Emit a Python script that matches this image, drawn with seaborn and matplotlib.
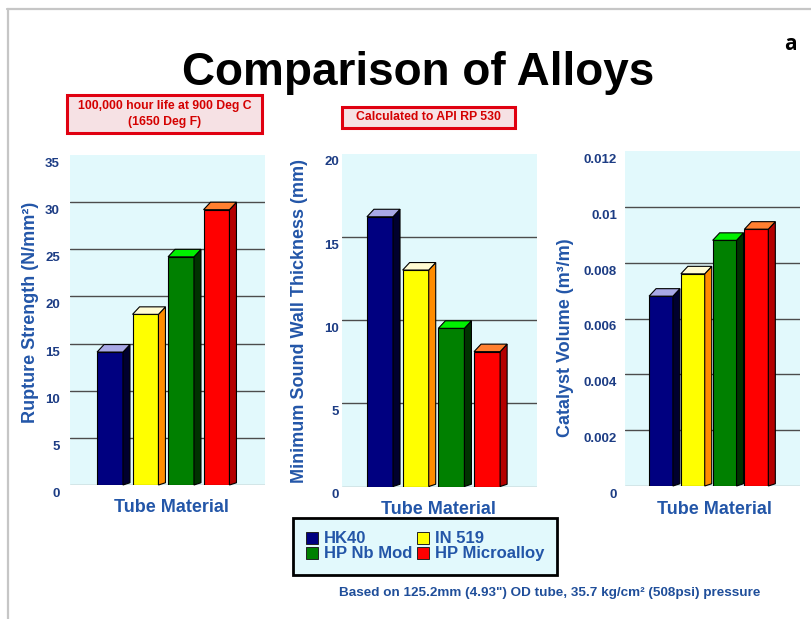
import matplotlib
matplotlib.use("Agg")
import matplotlib.pyplot as plt
import pandas as pd
import seaborn as sns
from matplotlib.patches import Polygon, Rectangle
from matplotlib.lines import Line2D
from matplotlib.transforms import blended_transform_factory, ScaledTranslation

# ---------------------------------------------------------------- data
materials = ["HK40", "IN 519", "HP Nb Mod", "HP Microalloy"]
rupture_strength = [14.1, 18.1, 24.2, 29.2]            # N/mm2
wall_thickness = [16.2, 13.0, 9.5, 8.1]                # mm
catalyst_volume = [0.0068, 0.0076, 0.0088, 0.0092]    # m3/m

rupture_ticks = [0, 5, 10, 15, 20, 25, 30, 35]
thickness_ticks = [0, 5, 10, 15, 20]
volume_ticks = [0, 0.002, 0.004, 0.006, 0.008, 0.010, 0.012]
volume_tick_labels = ["0", "0.002", "0.004", "0.006", "0.008", "0.01", "0.012"]

# ---------------------------------------------------------------- style
front_colors = ["#000080", "#ffff00", "#008000", "#ff0000"]
side_colors = ["#00002e", "#ff8c00", "#003200", "#b40000"]
top_colors = ["#a9a9e6", "#fffbd2", "#00f000", "#ff8030"]
WALL = "#e2f9fc"
BLUE = "#2356a8"
NAVY = "#1c3c84"
RED = "#d40000"
FONT = "Liberation Sans"

W, H, DPI = 811, 619, 100
sns.set_theme(style="white")
plt.rcParams["font.family"] = [FONT, "DejaVu Sans"]

fig = plt.figure(figsize=(W / DPI, H / DPI), dpi=DPI)
fig.patch.set_facecolor("white")


def fx(px):
    return px / W


def fy(py):
    return 1 - py / H


# thin grey frame around the slide
fig.add_artist(Line2D([fx(7), fx(811)], [fy(9), fy(9)], color="#c6c6c6", lw=1.6))
fig.add_artist(Line2D([fx(8), fx(8)], [fy(9), fy(619)], color="#c6c6c6", lw=1.6))

# title and panel letter
fig.text(fx(418), fy(85), "Comparison of Alloys", ha="center", va="baseline",
         fontsize=33, fontweight="bold", color="black")
fig.text(fx(790), fy(45), "a", ha="center", va="center", fontsize=15,
         fontweight="bold", color="black", family=["Open Sans", "DejaVu Sans"])


def note_box(l, t, r, b, lines):
    fig.add_artist(Rectangle((fx(l), fy(b)), fx(r - l), (b - t) / H,
                             transform=fig.transFigure, facecolor="#f6e1e4",
                             edgecolor="#e00010", lw=2.2))
    cy = (t + b) / 2
    n = len(lines)
    for k, txt in enumerate(lines):
        yy = cy + (k - (n - 1) / 2) * 15
        fig.text(fx((l + r) / 2), fy(yy), txt, ha="center", va="center",
                 fontsize=8.8, fontweight="bold", color=RED)


note_box(67, 95, 262, 133, ["100,000 hour life at 900 Deg C", "(1650 Deg F)"])
note_box(342, 107, 515, 128, ["Calculated to API RP 530"])


def panel(box, values, ticks, tick_labels, xlim, bar_width, ylabel,
          ylabel_xy, xlabel_xy, tick_right):
    l, t, r, b = box
    ax = fig.add_axes([fx(l), fy(b), fx(r - l), (b - t) / H])
    df = pd.DataFrame({"material": materials, "value": values})
    sns.barplot(data=df, x="material", y="value", hue="material",
                palette=front_colors, saturation=1, dodge=False,
                width=bar_width, legend=False, edgecolor="black",
                linewidth=0.8, ax=ax, zorder=3)
    ax.set_facecolor(WALL)
    ax.set_xlim(*xlim)
    ax.set_ylim(ticks[0], ticks[-1])
    ax.set_yticks(ticks)
    ax.set_axisbelow(True)
    ax.yaxis.grid(True, color="#4c4c4c", lw=1.0)
    grid = ax.get_ygridlines()
    grid[0].set_color("#9a9a9a")
    grid[-1].set_visible(False)
    for s in ax.spines.values():
        s.set_visible(False)
    ax.tick_params(left=False, bottom=False, labelleft=False, labelbottom=False)
    ax.set_xlabel("")
    ax.set_ylabel("")

    # depth of the pseudo-3D columns, in data units
    sx = (r - l) / (xlim[1] - xlim[0])
    sy = (b - t) / (ticks[-1] - ticks[0])
    ddx, ddy = 7 / sx, 7.5 / sy
    for i, p in enumerate(list(ax.patches)[:len(values)]):
        x0, w, h = p.get_x(), p.get_width(), p.get_height()
        top = Polygon([(x0, h), (x0 + w, h), (x0 + w + ddx, h + ddy),
                       (x0 + ddx, h + ddy)], closed=True,
                      facecolor=top_colors[i], edgecolor="black", lw=0.8,
                      zorder=3, clip_on=False)
        side = Polygon([(x0 + w, 0), (x0 + w + ddx, ddy * 0.3),
                        (x0 + w + ddx, h + ddy), (x0 + w, h)], closed=True,
                       facecolor=side_colors[i], edgecolor="black", lw=0.8,
                       zorder=3, clip_on=False)
        ax.add_patch(side)
        ax.add_patch(top)

    # value labels of the y axis sit on the front plane, a little lower
    trans = blended_transform_factory(ax.transAxes, ax.transData) + \
        ScaledTranslation(0, -9 / DPI, fig.dpi_scale_trans)
    xa = (tick_right - l) / (r - l)
    for v, lab in zip(ticks, tick_labels):
        ax.text(xa, v, lab, transform=trans, ha="right", va="center",
                fontsize=9.5, fontweight="bold", color=NAVY, clip_on=False)

    fig.text(fx(ylabel_xy[0]), fy(ylabel_xy[1]), ylabel, rotation=90,
             ha="center", va="center", fontsize=13, fontweight="bold",
             color=BLUE)
    fig.text(fx(xlabel_xy[0]), fy(xlabel_xy[1]), "Tube Material",
             ha="center", va="center", fontsize=13, fontweight="bold",
             color=BLUE)
    return ax


panel((70, 155, 265, 485), rupture_strength, rupture_ticks,
      [str(v) for v in rupture_ticks], (-1.127, 4.366), 0.73,
      "Rupture Strength (N/mm\u00b2)", (31, 312), (171, 508), 60)
panel((342, 153.5, 537, 486.5), wall_thickness, thickness_ticks,
      [str(v) for v in thickness_ticks], (-1.064, 4.398), 0.73,
      "Minimum Sound Wall Thickness (mm)", (299, 321), (438, 510), 339)
panel((625, 151, 800, 486), catalyst_volume, volume_ticks,
      volume_tick_labels, (-1.132, 4.371), 0.75,
      "Catalyst Volume (m\u00b3/m)", (565, 338), (714, 510), 617)

# legend for the four alloys
handles = [Line2D([], [], ls="", marker="s", markersize=8,
                  markerfacecolor=c, markeredgecolor="#222222",
                  markeredgewidth=0.7) for c in front_colors]
order = [0, 2, 1, 3]
leg = fig.legend([handles[i] for i in order], [materials[i] for i in order],
                 ncol=2, loc="upper left",
                 bbox_to_anchor=(fx(293), fy(518)), frameon=True,
                 fancybox=False, edgecolor="black", facecolor=WALL,
                 framealpha=1, labelcolor=BLUE,
                 prop={"family": FONT, "weight": "bold", "size": 12},
                 handlelength=0.7, handletextpad=0.35, columnspacing=0.3,
                 labelspacing=0.0, borderpad=0.8, borderaxespad=0)
leg.get_frame().set_linewidth(2)

fig.text(fx(550), fy(593),
         "Based on 125.2mm (4.93\") OD tube, 35.7 kg/cm\u00b2 (508psi) pressure",
         ha="center", va="center", fontsize=9.7, fontweight="bold",
         color="#1f4e9a")

fig.savefig("out.png", dpi=DPI)
